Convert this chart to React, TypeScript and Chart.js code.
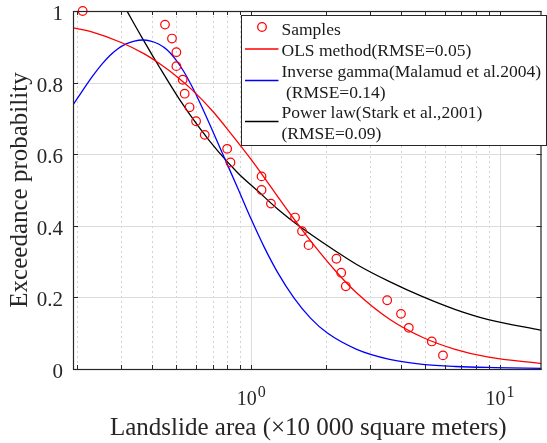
import React, { useEffect, useRef } from 'react';
import { Chart, registerables } from 'chart.js';

Chart.register(...registerables);

// ---------- data ----------
const sampleX = [0.21, 0.45, 0.48, 0.5, 0.5, 0.53, 0.54, 0.565, 0.6, 0.65, 0.8, 0.825, 1.1, 1.1, 1.2, 1.5, 1.6, 1.7, 2.2, 2.3, 2.4, 3.52, 4.0, 4.3, 5.32, 5.9];
const sampleY = [1.0, 0.962, 0.923, 0.885, 0.846, 0.808, 0.769, 0.731, 0.692, 0.654, 0.615, 0.577, 0.538, 0.5, 0.462, 0.423, 0.385, 0.346, 0.308, 0.269, 0.231, 0.192, 0.154, 0.115, 0.077, 0.038];

const olsX = [0.192, 0.23, 0.3, 0.37, 0.43, 0.5, 0.58, 0.7, 0.83, 1.0, 1.13, 1.28, 1.5, 1.8, 2.2, 2.65, 3.6, 4.9, 6.6, 9.0, 14.69];
const olsY = [0.953, 0.941, 0.912, 0.881, 0.852, 0.818, 0.779, 0.72, 0.657, 0.585, 0.534, 0.481, 0.415, 0.343, 0.271, 0.213, 0.139, 0.088, 0.055, 0.033, 0.015];

const igX = [0.192, 0.2313, 0.2506, 0.2696, 0.2901, 0.3141, 0.3388, 0.3656, 0.3945, 0.4259, 0.4595, 0.4961, 0.5354, 0.5759, 0.6198, 0.6853, 0.7718, 0.8855, 1.0, 1.13, 1.276, 1.487, 1.731, 2.017, 2.654, 3.599, 4.886, 6.627, 9.552, 14.69];
const igY = [0.738, 0.82, 0.851, 0.875, 0.894, 0.908, 0.916, 0.919, 0.916, 0.907, 0.891, 0.865, 0.831, 0.791, 0.746, 0.679, 0.597, 0.503, 0.418, 0.339, 0.27, 0.198, 0.142, 0.101, 0.055, 0.027, 0.013, 0.007, 0.004, 0.002];

const plX = [0.3059, 0.3187, 0.3656, 0.4259, 0.5113, 0.6141, 0.7375, 0.8855, 1.063, 1.276, 1.533, 2.21, 2.654, 3.599, 4.886, 6.627, 8.98, 14.69];
const plY = [1.018, 0.996, 0.923, 0.845, 0.756, 0.677, 0.607, 0.547, 0.497, 0.447, 0.403, 0.327, 0.292, 0.244, 0.202, 0.166, 0.138, 0.108];

const yTicks = [0, 0.2, 0.4, 0.6, 0.8, 1];
const yTickLabels = ['0', '0.2', '0.4', '0.6', '0.8', '1'];
const xMajorTicks = [1, 10];
const xMajorBase = ['10', '10'];
const xMajorExp = ['0', '1'];
const xMinorTicks = [0.2, 0.3, 0.4, 0.5, 0.6, 0.7, 0.8, 0.9, 2, 3, 4, 5, 6, 7, 8, 9];

const seriesNames = ['Samples', 'OLS method(RMSE=0.05)', 'Inverse gamma(Malamud et al.2004)', 'Power law(Stark et al.,2001)'];
const seriesSecondLine = ['', '', ' (RMSE=0.14)', '(RMSE=0.09)'];
const seriesColors = ['#ff0000', '#ff0000', '#0000ff', '#000000'];

const xTitle = 'Landslide area (\u00d710 000 square meters)';
const yTitle = 'Exceedance probability';

const FONT = "'Liberation Serif', 'Times New Roman', serif";
const AXIS_COLOR = '#262626';

const pts = (xs: number[], ys: number[]) => xs.map((x, i) => ({ x, y: ys[i] }));

const framePlugin = {
  id: 'matlabFrame',
  beforeDatasetsDraw(chart: any) {
    const { ctx, chartArea: a, scales } = chart;
    const xs = scales.x;
    const ys = scales.y;
    ctx.save();
    ctx.lineWidth = 1;
    ctx.strokeStyle = '#d2d2d2';
    ctx.setLineDash([2, 3]);
    for (const v of xMinorTicks) {
      const px = Math.round(xs.getPixelForValue(v)) + 0.5;
      ctx.beginPath();
      ctx.moveTo(px, a.top);
      ctx.lineTo(px, a.bottom);
      ctx.stroke();
    }
    ctx.setLineDash([]);
    ctx.strokeStyle = '#dcdcdc';
    for (const v of xMajorTicks) {
      const px = Math.round(xs.getPixelForValue(v)) + 0.5;
      ctx.beginPath();
      ctx.moveTo(px, a.top);
      ctx.lineTo(px, a.bottom);
      ctx.stroke();
    }
    for (const v of yTicks) {
      const py = Math.round(ys.getPixelForValue(v)) + 0.5;
      ctx.beginPath();
      ctx.moveTo(a.left, py);
      ctx.lineTo(a.right, py);
      ctx.stroke();
    }
    ctx.restore();
  },
  afterDatasetsDraw(chart: any) {
    const { ctx, chartArea: a, scales } = chart;
    const xs = scales.x;
    const ys = scales.y;
    ctx.save();
    ctx.strokeStyle = AXIS_COLOR;
    ctx.lineWidth = 1.2;
    ctx.strokeRect(a.left + 0.5, a.top + 0.5, a.right - a.left - 1, a.bottom - a.top);
    ctx.lineWidth = 1;
    const tl = 4;
    for (const v of [...xMinorTicks, ...xMajorTicks]) {
      const px = Math.round(xs.getPixelForValue(v)) + 0.5;
      ctx.beginPath();
      ctx.moveTo(px, a.bottom);
      ctx.lineTo(px, a.bottom - tl);
      ctx.moveTo(px, a.top);
      ctx.lineTo(px, a.top + tl);
      ctx.stroke();
    }
    for (const v of yTicks) {
      const py = Math.round(ys.getPixelForValue(v)) + 0.5;
      ctx.beginPath();
      ctx.moveTo(a.left, py);
      ctx.lineTo(a.left + 5, py);
      ctx.moveTo(a.right, py);
      ctx.lineTo(a.right - 5, py);
      ctx.stroke();
    }
    ctx.fillStyle = AXIS_COLOR;
    ctx.font = `21px ${FONT}`;
    ctx.textAlign = 'right';
    ctx.textBaseline = 'alphabetic';
    yTicks.forEach((v, i) => {
      const py = ys.getPixelForValue(v);
      ctx.fillText(yTickLabels[i], a.left - 10, py + 9);
    });
    xMajorTicks.forEach((v, i) => {
      const px = xs.getPixelForValue(v);
      ctx.font = `20px ${FONT}`;
      const w1 = ctx.measureText(xMajorBase[i]).width;
      ctx.font = `16px ${FONT}`;
      const w2 = ctx.measureText(xMajorExp[i]).width;
      const start = px - (w1 + w2 + 1) / 2;
      ctx.textAlign = 'left';
      ctx.font = `20px ${FONT}`;
      ctx.fillText(xMajorBase[i], start, a.bottom + 36);
      ctx.font = `16px ${FONT}`;
      ctx.fillText(xMajorExp[i], start + w1 + 1, a.bottom + 27.5);
    });
    ctx.font = `25px ${FONT}`;
    ctx.textAlign = 'center';
    ctx.fillText(xTitle, (a.left + a.right) / 2 + 1, a.bottom + 65.5);
    ctx.save();
    ctx.translate(26.5, (a.top + a.bottom) / 2);
    ctx.rotate(-Math.PI / 2);
    ctx.fillText(yTitle, 0, 0);
    ctx.restore();

    // legend box
    const lx = 241.5, ly = 15.5, lw = 305, lh = 130;
    ctx.fillStyle = '#ffffff';
    ctx.fillRect(lx, ly, lw, lh);
    ctx.strokeStyle = AXIS_COLOR;
    ctx.lineWidth = 1;
    ctx.strokeRect(lx, ly, lw, lh);
    ctx.font = `17.5px ${FONT}`;
    ctx.textAlign = 'left';
    const textX = 281.5;
    const baselines = [34.5, 55.5, 76.5, 97.5, 118, 139];
    const lineYs = [27, 49, 80.5, 121.5];
    let row = 0;
    seriesNames.forEach((name, i) => {
      ctx.fillStyle = '#1a1a1a';
      ctx.fillText(name, textX, baselines[row]);
      row++;
      if (seriesSecondLine[i]) {
        ctx.fillText(seriesSecondLine[i], textX, baselines[row]);
        row++;
      }
      ctx.strokeStyle = seriesColors[i];
      ctx.lineWidth = 1.3;
      ctx.beginPath();
      if (i === 0) {
        ctx.arc(262, lineYs[i], 4.3, 0, Math.PI * 2);
      } else {
        ctx.moveTo(245, lineYs[i]);
        ctx.lineTo(278.5, lineYs[i]);
      }
      ctx.stroke();
    });
    ctx.restore();
  },
};

export default function App() {
  const ref = useRef<HTMLCanvasElement | null>(null);
  useEffect(() => {
    if (!ref.current) return;
    const lineDs = (label: string, xs: number[], ys: number[], color: string) => ({
      label,
      data: pts(xs, ys),
      showLine: true,
      pointRadius: 0,
      borderColor: color,
      borderWidth: 1.3,
      cubicInterpolationMode: 'monotone',
    });
    const chart = new Chart(ref.current, {
      type: 'scatter',
      data: {
        datasets: [
          {
            label: seriesNames[0],
            data: pts(sampleX, sampleY),
            showLine: false,
            pointStyle: 'circle',
            pointRadius: 4.3,
            pointBorderWidth: 1.2,
            borderColor: '#ff0000',
            backgroundColor: 'rgba(0,0,0,0)',
            clip: false,
          },
          lineDs(seriesNames[1], olsX, olsY, seriesColors[1]),
          lineDs(seriesNames[2], igX, igY, seriesColors[2]),
          lineDs(seriesNames[3], plX, plY, seriesColors[3]),
        ] as any,
      },
      options: {
        animation: false,
        responsive: false,
        devicePixelRatio: 1,
        layout: { padding: { left: 73, top: 11, right: 0, bottom: 74 } },
        scales: {
          x: { type: 'logarithmic', min: 0.192, max: 14.69, display: false },
          y: { type: 'linear', min: 0, max: 1, display: false },
        },
        plugins: {
          legend: { display: false },
          tooltip: { enabled: false },
        },
      } as any,
      plugins: [framePlugin],
    });
    return () => chart.destroy();
  }, []);
  return (
    <div style={{ position: 'fixed', left: 0, top: 0, width: 547, height: 443, background: '#ffffff' }}>
      <canvas ref={ref} width={547} height={443} style={{ display: 'block' }} />
    </div>
  );
}
